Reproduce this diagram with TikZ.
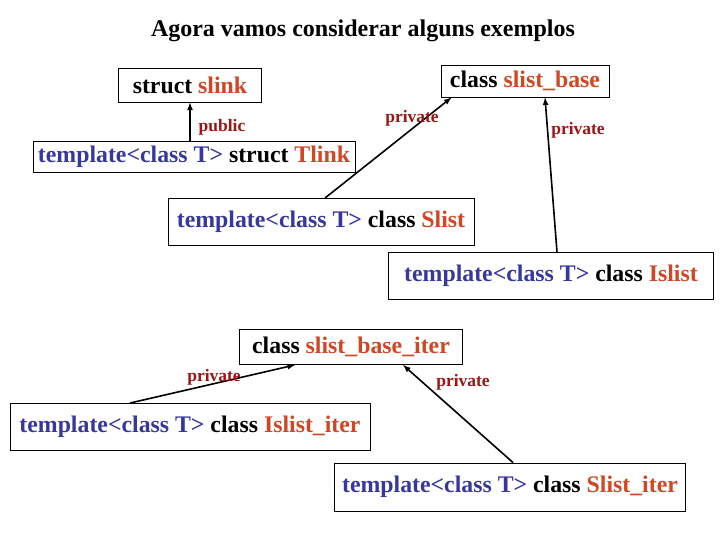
\documentclass[tikz,border=0pt]{standalone}
\usepackage{fontspec}
\setmainfont{Liberation Serif}
\usepackage{xcolor}
\definecolor{tblue}{RGB}{55,55,160}
\definecolor{torange}{RGB}{210,70,35}
\definecolor{tred}{RGB}{160,20,20}
\tikzset{
  classbox/.style={draw, line width=0.9pt, inner sep=0pt, font=\bfseries\fontsize{23.8}{27}\selectfont},
  inh/.style={line width=1.6pt, -latex},
  acc/.style={text=tred, font=\bfseries\fontsize{17.5}{20}\selectfont}
}
\newcommand{\tpl}{\textcolor{tblue}{template<class T>}}
\newcommand{\nm}[1]{\textcolor{torange}{#1}}

\begin{document}
\begin{tikzpicture}[x=1pt,y=-1pt]
\useasboundingbox (0,0) rectangle (720,540);
\node (title) at (363,31) [font=\bfseries\fontsize{24}{28}\selectfont]{Agora vamos considerar alguns exemplos};
% top row
\node (slink) at (190,85) [classbox, minimum width=143pt, minimum height=34pt]{struct \nm{slink}};
\node (slistbase) at (525,81) [classbox, minimum width=168pt, minimum height=32pt]{class \nm{slist\_base}};
\node (tlink) at (194,157) [classbox, minimum width=322pt, minimum height=31pt]{\tpl{} struct \nm{Tlink}};
\node (slist) at (321,222) [classbox, minimum width=306pt, minimum height=47pt]{\tpl{} class \nm{Slist}};
\node (islist) at (551,276) [classbox, minimum width=325pt, minimum height=47pt]{\tpl{} class \nm{Islist}};
% iterators
\node (baseiter) at (351,347) [classbox, minimum width=223pt, minimum height=35pt]{class \nm{slist\_base\_iter}};
\node (islistiter) at (190,427) [classbox, minimum width=360pt, minimum height=47pt]{\tpl{} class \nm{Islist\_iter}};
\node (slistiter) at (510,487) [classbox, minimum width=351pt, minimum height=48pt]{\tpl{} class \nm{Slist\_iter}};
% inheritance
\draw [inh] (slink.south |- tlink.north) -- (slink.south);
\node (lpub) at (222,127) [acc]{public};
\draw [inh] ([xshift=4pt]slist.north) -- ([xshift=11pt]slistbase.south west);
\node (lpriv1) at (412,118) [acc]{private};
\draw [inh] ([xshift=6pt]islist.north) -- ([xshift=20pt]slistbase.south);
\node (lpriv2) at (578,130) [acc]{private};
\draw [inh] ([xshift=-60pt]islistiter.north) -- ([xshift=-56pt]baseiter.south);
\node (lpriv3) at (214,377) [acc]{private};
\draw [inh] ([xshift=3pt]slistiter.north) -- ([xshift=52pt]baseiter.south);
\node (lpriv4) at (463,382) [acc]{private};
\end{tikzpicture}
\end{document}
